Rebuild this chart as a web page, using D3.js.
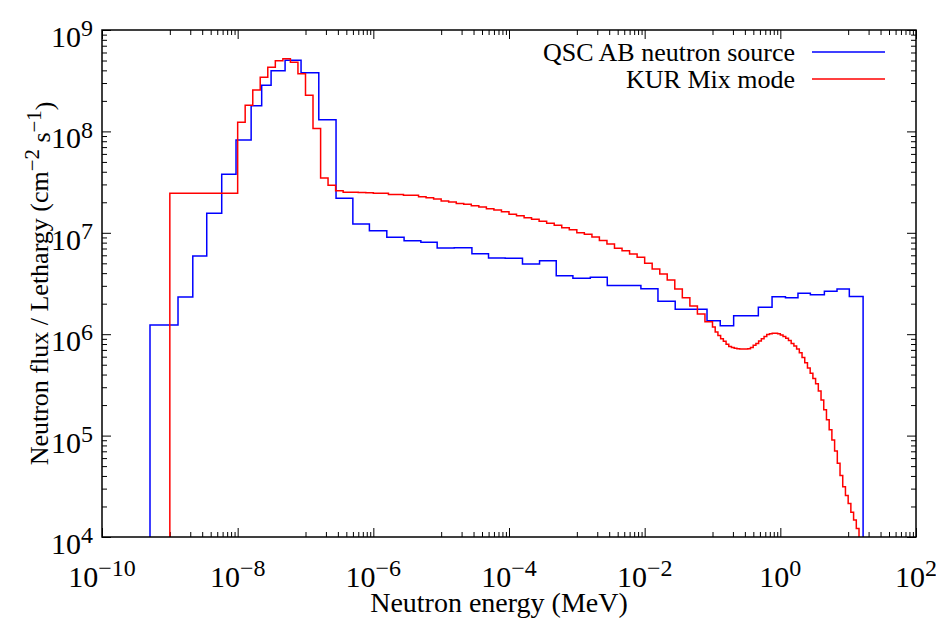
<!DOCTYPE html>
<html>
<head>
<meta charset="utf-8">
<script src="https://cdn.jsdelivr.net/npm/d3@7"></script>
<style>
body { margin: 0; background: #fff; }
svg { font-family: "Liberation Serif", "DejaVu Serif", serif; }
</style>
</head>
<body>
<div id="chart"></div>
<script>
// QSC AB neutron source: bin edges (MeV) and flux per lethargy in each bin
const qscEdges = [5.1e-10, 1.32e-9, 2.18e-9, 3.50e-9, 5.82e-9, 9.46e-9, 1.58e-8, 2.26e-8, 3.11e-8, 5.0e-8,
    8.6e-8, 1.57e-7, 2.82e-7, 4.99e-7, 8.75e-7, 1.58e-6, 2.84e-6, 5.02e-6, 8.73e-6, 1.56e-5,
    2.84e-5, 4.99e-5, 8.79e-5, 1.58e-4, 2.82e-4, 4.97e-4, 8.75e-4, 1.58e-3, 2.81e-3, 8.8e-3,
    1.57e-2, 2.82e-2, 8.3e-2, 0.130, 0.205, 0.474, 0.755, 1.19, 1.82, 2.77,
    4.46, 6.85, 10.4, 16.6];
const qscFlux = [1.23e6, 2.33e6, 5.90e6, 1.56e7, 3.78e7, 8.23e7, 1.79e8, 2.85e8, 3.97e8, 5.03e8,
    3.79e8, 1.30e8, 2.19e7, 1.22e7, 1.05e7, 9.03e6, 8.36e6, 8.06e6, 7.08e6, 7.13e6,
    6.22e6, 5.64e6, 5.60e6, 4.92e6, 5.31e6, 3.78e6, 3.56e6, 3.64e6, 3.02e6, 2.81e6,
    2.11e6, 1.76e6, 1.36e6, 1.21e6, 1.52e6, 1.84e6, 2.34e6, 2.29e6, 2.53e6, 2.45e6,
    2.65e6, 2.79e6, 2.36e6];

// KUR Mix mode: bin edges (MeV) and flux per lethargy
const kurEdges = [1e-9,
    1e-8, 1.29e-8, 1.67e-8, 2.15e-8, 2.78e-8, 3.59e-8, 4.64e-8, 5.99e-8, 7.74e-8,
    1e-7, 1.29e-7, 1.67e-7, 2.15e-7, 2.78e-7, 3.59e-7, 4.64e-7, 5.99e-7, 7.74e-7,
    1e-6, 1.29e-6, 1.67e-6, 2.15e-6, 2.78e-6, 3.59e-6, 4.64e-6, 5.99e-6, 7.74e-6,
    1e-5, 1.29e-5, 1.67e-5, 2.15e-5, 2.78e-5, 3.59e-5, 4.64e-5, 5.99e-5, 7.74e-5,
    1e-4, 1.29e-4, 1.67e-4, 2.15e-4, 2.78e-4, 3.59e-4, 4.64e-4, 5.99e-4, 7.74e-4,
    1e-3, 1.29e-3, 1.67e-3, 2.15e-3, 2.78e-3, 3.59e-3, 4.64e-3, 5.99e-3, 7.74e-3,
    1e-2, 1.29e-2, 1.67e-2, 2.15e-2, 2.78e-2, 3.59e-2, 4.64e-2, 5.99e-2, 7.74e-2,
    0.1, 0.1096, 0.1202, 0.1318, 0.1445, 0.1585, 0.1738, 0.1905, 0.2089, 0.2291,
    0.2512, 0.2754, 0.3020, 0.3311, 0.3631, 0.3981, 0.4365, 0.4786, 0.5248, 0.5754,
    0.6310, 0.6918, 0.7586, 0.8318, 0.9120, 1.0, 1.096, 1.202, 1.318, 1.445,
    1.585, 1.738, 1.905, 2.089, 2.291, 2.512, 2.754, 3.020, 3.311, 3.631,
    3.981, 4.365, 4.786, 5.248, 5.754, 6.310, 6.918, 7.586, 8.318, 9.120,
    10.0, 10.96, 12.02, 13.18, 14.45, 15.85];
const kurFlux = [2.45e7,
    1.23e8, 1.81e8, 2.56e8, 3.42e8, 4.29e8, 4.98e8, 5.21e8, 4.80e8, 3.71e8,
    2.27e8, 1.07e8, 3.47e7, 2.94e7, 2.60e7, 2.51e7, 2.51e7, 2.50e7, 2.49e7,
    2.45e7, 2.45e7, 2.38e7, 2.38e7, 2.34e7, 2.34e7, 2.27e7, 2.22e7, 2.15e7,
    2.06e7, 2.01e7, 1.95e7, 1.91e7, 1.85e7, 1.80e7, 1.73e7, 1.68e7, 1.61e7,
    1.52e7, 1.47e7, 1.41e7, 1.36e7, 1.30e7, 1.24e7, 1.19e7, 1.12e7, 1.07e7,
    1.00e7, 9.67e6, 9.10e6, 8.40e6, 7.76e6, 7.03e6, 6.66e6, 6.18e6, 5.73e6,
    5.00e6, 4.40e6, 3.92e6, 3.42e6, 2.79e6, 2.29e6, 1.90e6, 1.58e6, 1.33e6,
    1.18e6, 1.05e6, 9.71e5, 9.01e5, 8.51e5, 7.97e5, 7.56e5, 7.38e5, 7.26e5, 7.19e5,
    7.16e5, 7.14e5, 7.14e5, 7.17e5, 7.39e5, 7.76e5, 8.11e5, 8.59e5, 9.03e5, 9.49e5,
    9.91e5, 1.01e6, 1.02e6, 1.02e6, 1.01e6, 9.80e5, 9.49e5, 9.12e5, 8.67e5, 8.09e5,
    7.65e5, 7.14e5, 6.56e5, 5.88e5, 5.22e5, 4.64e5, 4.12e5, 3.66e5, 3.25e5, 2.75e5,
    2.25e5, 1.80e5, 1.43e5, 1.14e5, 9.05e4, 7.05e4, 5.33e4, 4.03e4, 3.13e4, 2.57e4,
    2.14e4, 1.75e4, 1.47e4, 1.21e4, 9.0e3];

const series = [
    { name: "QSC AB neutron source", edges: qscEdges, flux: qscFlux, color: "#0000ff" },
    { name: "KUR Mix mode", edges: kurEdges, flux: kurFlux, color: "#ff0000" }
];

const xMajor = [-10, -8, -6, -4, -2, 0, 2];
const yMajor = [4, 5, 6, 7, 8, 9];

const width = 936;
const height = 619;
const margin = { left: 102, right: 20, top: 30, bottom: 82 };
const tickFont = 30;
const legendFont = 26;
const titleFont = 28;
const yTitleFont = 26;

const svg = d3.select("#chart")
    .append("svg")
    .attr("width", width)
    .attr("height", height);

const x = d3.scaleLog().domain([1e-10, 1e2]).range([margin.left, width - margin.right]);
const y = d3.scaleLog().domain([1e4, 1e9]).range([height - margin.bottom, margin.top]);

const x0 = x.range()[0], x1 = x.range()[1];
const y0 = y.range()[0], y1 = y.range()[1];

svg.append("clipPath").attr("id", "plot-clip")
    .append("rect")
    .attr("x", x0).attr("y", y1)
    .attr("width", x1 - x0).attr("height", y0 - y1);

// minor ticks: gnuplot puts 1..9 x 10^odd between the labelled decades on x
const xMinor = [];
for (let e = -9; e <= 1; e += 2) {
    for (let k = 1; k <= 9; k++) xMinor.push(k * Math.pow(10, e));
}
const yMinor = [];
for (let e = 4; e < 9; e++) {
    for (let k = 2; k <= 9; k++) yMinor.push(k * Math.pow(10, e));
}
const xMajorVals = xMajor.map(e => Math.pow(10, e));
const yMajorVals = yMajor.map(e => Math.pow(10, e));

const addTicks = (axisFn, scale, values, size, transform) => {
    svg.append("g")
        .attr("transform", transform)
        .call(axisFn(scale).tickValues(values).tickSize(-size).tickFormat(""))
        .call(g => g.select(".domain").remove())
        .call(g => g.selectAll("line").attr("stroke", "#000").attr("stroke-width", 1));
};

addTicks(d3.axisBottom, x, xMajorVals, 9, `translate(0,${y0})`);
addTicks(d3.axisBottom, x, xMinor, 5, `translate(0,${y0})`);
addTicks(d3.axisTop, x, xMajorVals, 9, `translate(0,${y1})`);
addTicks(d3.axisTop, x, xMinor, 5, `translate(0,${y1})`);
addTicks(d3.axisLeft, y, yMajorVals, 9, `translate(${x0},0)`);
addTicks(d3.axisLeft, y, yMinor, 5, `translate(${x0},0)`);
addTicks(d3.axisRight, y, yMajorVals, 9, `translate(${x1},0)`);
addTicks(d3.axisRight, y, yMinor, 5, `translate(${x1},0)`);

// power-of-ten label with superscript exponent
const powerLabel = (sel, exp) => {
    sel.append("tspan").text("10");
    sel.append("tspan")
        .attr("dy", "-0.45em")
        .style("font-size", "0.8em")
        .text(exp < 0 ? "\u2212" + Math.abs(exp) : String(exp));
};

xMajor.forEach(e => {
    const t = svg.append("text")
        .attr("x", x(Math.pow(10, e)))
        .attr("y", y0 + 50)
        .attr("text-anchor", "middle")
        .style("font-size", tickFont + "px");
    powerLabel(t, e);
});

yMajor.forEach(e => {
    const t = svg.append("text")
        .attr("x", x0 - 9)
        .attr("y", y(Math.pow(10, e)) + 17)
        .attr("text-anchor", "end")
        .style("font-size", tickFont + "px");
    powerLabel(t, e);
});

// step lines
const floor = 1e3;
const line = d3.line()
    .x(d => x(d[0]))
    .y(d => y(d[1]))
    .curve(d3.curveStepAfter);

const plot = svg.append("g").attr("clip-path", "url(#plot-clip)");

series.forEach(s => {
    const pts = [[s.edges[0], floor]];
    s.flux.forEach((v, i) => pts.push([s.edges[i], v]));
    const last = s.edges[s.edges.length - 1];
    pts.push([last, s.flux[s.flux.length - 1]]);
    pts.push([last, floor]);
    plot.append("path")
        .datum(pts)
        .attr("fill", "none")
        .attr("stroke", s.color)
        .attr("stroke-width", 1.5)
        .attr("d", line);
});

// frame
svg.append("rect")
    .attr("x", x0).attr("y", y1)
    .attr("width", x1 - x0).attr("height", y0 - y1)
    .attr("fill", "none")
    .attr("stroke", "#000")
    .attr("stroke-width", 1.5);

// legend
series.forEach((s, i) => {
    const ly = 52 + i * 27;
    svg.append("text")
        .attr("x", 795)
        .attr("y", ly + 9)
        .attr("text-anchor", "end")
        .style("font-size", legendFont + "px")
        .text(s.name);
    svg.append("line")
        .attr("x1", 812).attr("x2", 885)
        .attr("y1", ly).attr("y2", ly)
        .attr("stroke", s.color)
        .attr("stroke-width", 1.5);
});

// axis titles
svg.append("text")
    .attr("x", 499)
    .attr("y", 612)
    .attr("text-anchor", "middle")
    .style("font-size", titleFont + "px")
    .text("Neutron energy (MeV)");

const yTitle = svg.append("text")
    .attr("transform", `translate(48,${(y0 + y1) / 2}) rotate(-90)`)
    .attr("text-anchor", "middle")
    .style("font-size", yTitleFont + "px");
yTitle.append("tspan").text("Neutron flux / Lethargy (cm");
yTitle.append("tspan").attr("dy", "-0.45em").style("font-size", "0.8em").text("\u22122");
yTitle.append("tspan").attr("dy", "0.45em").text(" s");
yTitle.append("tspan").attr("dy", "-0.45em").style("font-size", "0.8em").text("\u22121");
yTitle.append("tspan").attr("dy", "0.45em").text(")");
</script>
</body>
</html>
